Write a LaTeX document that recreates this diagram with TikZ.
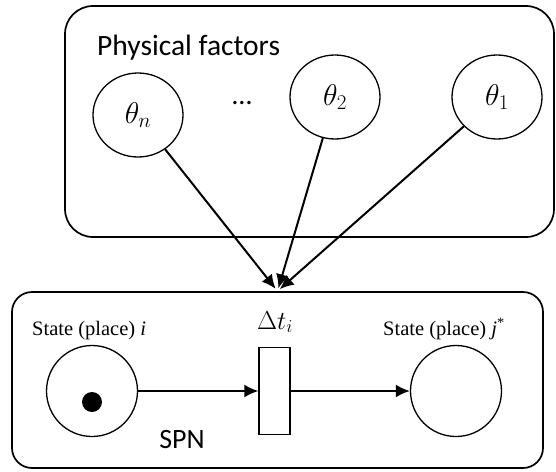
\documentclass[tikz,border=0pt]{standalone}
\usepackage{fix-cm}
\usepackage{fontspec}
\setmainfont{Carlito}
\newfontfamily\serifrm{Liberation Serif}
\usetikzlibrary{arrows.meta,shapes,backgrounds,positioning}
\tikzstyle{frame}=[draw=black, line width=1.7pt, rounded corners=20pt, inner sep=0pt]
\tikzstyle{factor}=[ellipse, draw=black, line width=1.3pt, minimum width=90pt, minimum height=84pt, inner sep=0pt, font=\fontsize{30}{36}\selectfont]
\tikzstyle{place}=[circle, draw=black, line width=1.3pt, minimum size=91pt, inner sep=0pt]
\tikzstyle{trans}=[rectangle, draw=black, line width=1.3pt, minimum width=31pt, minimum height=87pt, inner sep=0pt]
\tikzstyle{token}=[circle, fill=black, minimum size=20pt, inner sep=0pt]
\tikzstyle{arc}=[line width=2pt, -{Latex[length=14pt,width=13pt]}]
\tikzstyle{lab}=[font=\fontsize{28}{34}\selectfont, inner sep=0pt]
\tikzstyle{statelab}=[font=\serifrm\fontsize{20.5}{24}\selectfont, inner sep=0pt]
\begin{document}
\begin{tikzpicture}[x=1pt,y=-1pt]
          \useasboundingbox (0,0) rectangle (556,471);
          % 
          \node at (309.5,121.5) [frame, rounded corners=28pt, minimum width=489pt, minimum height=231pt] (phys) {};
          \node at (97,55) [lab, anchor=base west, font=\fontsize{29.5}{35}\selectfont] (physlab) {Physical factors};
          \node at (138,115) [factor] (thn) {$\theta_n$};
          \node at (242,104) [lab, anchor=base] (dots) {…};
          \node at (335,97) [factor] (th2) {$\theta_2$};
          \node at (497,97) [factor] (th1) {$\theta_1$};
          % 
          \node at (277.5,380) [frame, minimum width=531pt, minimum height=176pt] (spn) {};
          \node at (32,335) [statelab, anchor=base west] (ilab) {State (place) \textit{i}};
          \node at (383,335) [statelab, anchor=base west] (jlab) {State (place) \textit{j}\textsuperscript{*}};
          \node at (275,329) [lab, anchor=base, font=\fontsize{26}{31}\selectfont] (dtlab) {$\Delta t_i$};
          \node at (182,448) [lab, anchor=base] (spnlab) {SPN};
          \node at (92,391) [place] (pi) {};
          \node at (92,402) [token] (tok) {};
          \node at (274.5,391) [trans] (tr) {};
          \node at (456,391) [place] (pj) {};
          % 
          \draw[arc] (pi) -- (tr);
          \draw[arc] (tr) -- (pj);
          \draw[arc, shorten >=3pt] (thn) -- (spn.north);
          \draw[arc, shorten >=3pt] (th2) -- (spn.north);
          \draw[arc, shorten >=3pt] (th1) -- (spn.north);
          % 
\end{tikzpicture}
\end{document}
